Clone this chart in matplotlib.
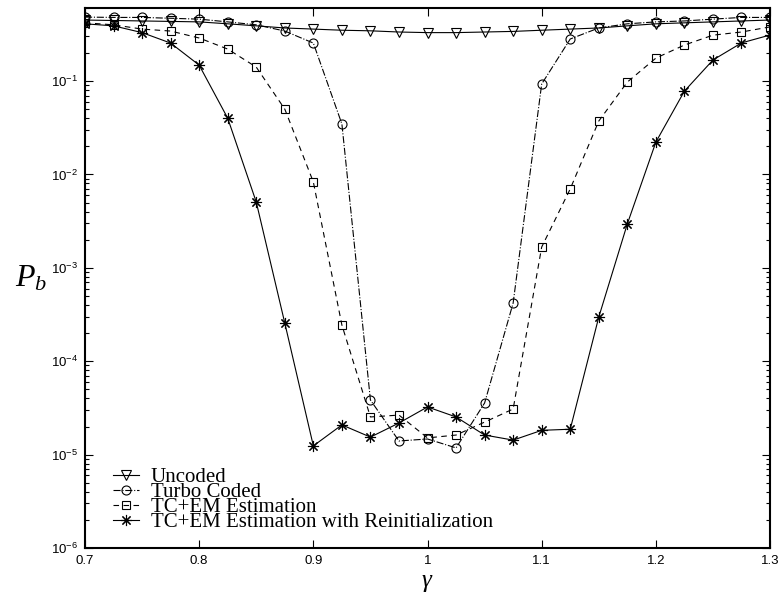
import numpy as np
from matplotlib import pyplot as plt
from matplotlib.ticker import LogLocator, NullFormatter, FixedLocator

plt.rcParams['mathtext.fontset'] = 'custom'
plt.rcParams['mathtext.rm'] = 'Liberation Sans'
plt.rcParams['mathtext.it'] = 'Liberation Serif:italic'
plt.rcParams['font.family'] = 'Liberation Sans'

gamma = [0.7, 0.725, 0.75, 0.775, 0.8, 0.825, 0.85, 0.875, 0.9, 0.925, 0.95, 0.975, 1.0,
         1.025, 1.05, 1.075, 1.1, 1.125, 1.15, 1.175, 1.2, 1.225, 1.25, 1.275, 1.3]

uncoded = [0.45, 0.445, 0.44, 0.435, 0.43, 0.41, 0.39, 0.37, 0.36, 0.35, 0.345, 0.335, 0.33,
           0.33, 0.335, 0.34, 0.35, 0.36, 0.37, 0.39, 0.41, 0.42, 0.43, 0.44, 0.45]

turbo = [0.484, 0.48, 0.48, 0.47, 0.46, 0.43, 0.40, 0.343, 0.255, 0.0347, 3.84e-5, 1.40e-5, 1.47e-5,
         1.18e-5, 3.57e-5, 4.2e-4, 0.093, 0.282, 0.37, 0.41, 0.43, 0.44, 0.46, 0.48, 0.48]

tc_em = [0.42, 0.40, 0.36, 0.343, 0.289, 0.22, 0.141, 0.050, 0.0083, 2.44e-4, 2.53e-5, 2.65e-5, 1.51e-5,
         1.62e-5, 2.23e-5, 3.08e-5, 1.67e-3, 7.0e-3, 0.0373, 0.0975, 0.176, 0.243, 0.31, 0.335, 0.38]

tc_em_reinit = [0.41, 0.39, 0.33, 0.255, 0.148, 0.040, 5.06e-3, 2.56e-4, 1.24e-5, 2.08e-5, 1.54e-5, 2.18e-5, 3.24e-5,
                2.53e-5, 1.62e-5, 1.43e-5, 1.82e-5, 1.87e-5, 2.97e-4, 2.95e-3, 0.0222, 0.078, 0.168, 0.256, 0.311]

labels = ['Uncoded', 'Turbo Coded', 'TC+EM Estimation', 'TC+EM Estimation with Reinitialization']

fig = plt.figure(figsize=(7.82, 6.04), dpi=100)
ax = fig.add_axes([0.1087, 0.0927, 0.876, 0.894])

kw = dict(color='black', linewidth=0.8, markerfacecolor='none', markeredgecolor='black',
          markeredgewidth=0.8)
ax.semilogy(gamma, uncoded, linestyle='-', marker='v', markersize=7, label=labels[0], **kw)
ax.semilogy(gamma, turbo, linestyle='-.', marker='o', markersize=6.5, label=labels[1], **kw)
ax.semilogy(gamma, tc_em, linestyle=(0, (5, 4)), marker='s', markersize=5.5, label=labels[2], **kw)
ax.semilogy(gamma, tc_em_reinit, linestyle='-', marker=(8, 2, 0), markersize=8, label=labels[3], **kw)

ax.set_xlim(0.7, 1.3)
ax.set_ylim(1e-6, 0.605)
ax.xaxis.set_major_locator(FixedLocator([0.7, 0.8, 0.9, 1.0, 1.1, 1.2, 1.3]))
ax.set_xticklabels(['0.7', '0.8', '0.9', '1', '1.1', '1.2', '1.3'])
ax.yaxis.set_major_locator(LogLocator(base=10, numticks=20))
ax.yaxis.set_minor_locator(LogLocator(base=10, subs=np.arange(2, 10), numticks=20))
ax.yaxis.set_minor_formatter(NullFormatter())
ax.tick_params(which='both', direction='in', top=True, right=True, labelsize=9.5, width=0.8)
ax.tick_params(which='major', length=6, pad=5)
ax.tick_params(which='minor', length=3)
for s in ax.spines.values():
    s.set_linewidth(1.5)

ax.set_xlabel(r'$\gamma$', fontsize=18, labelpad=2)
ax.set_ylabel(r'$P_b$', fontsize=23, rotation=0, labelpad=14, va='center')

ax.legend(loc='lower left', bbox_to_anchor=(0.02, 0.003), frameon=False,
          prop={'family': 'Liberation Serif', 'size': 15}, handlelength=1.25,
          handletextpad=0.55, labelspacing=-0.22, borderpad=0.2)

fig.savefig('out.png', dpi=100)
